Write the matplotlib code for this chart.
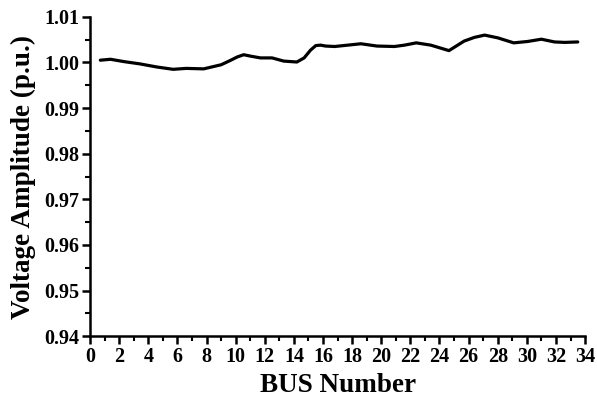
import numpy as np
import matplotlib
matplotlib.use("Agg")
import matplotlib.pyplot as plt
from matplotlib.ticker import MultipleLocator

# voltage profile
bus = [0.7, 1.4, 2.3, 3.4, 4.6, 5.7, 6.6, 7.8, 9.0, 9.6, 10.1, 10.55, 11.0,
       11.7, 12.5, 13.3, 14.2, 14.7, 15.14, 15.5, 15.83, 16.17, 16.8, 17.4,
       18.6, 19.7, 20.9, 21.6, 22.4, 23.4, 24.65, 25.7, 26.4, 27.1, 28.0,
       29.1, 30.05, 31.0, 31.9, 32.6, 33.5]
volt = [1.0005, 1.0007, 1.0002, 0.9997, 0.9990, 0.9985, 0.9987, 0.9986,
        0.9995, 1.0004, 1.0012, 1.0017, 1.0014, 1.0010, 1.0010, 1.0003,
        1.0001, 1.0010, 1.0027, 1.0037, 1.0038, 1.0036, 1.0035, 1.0037,
        1.0041, 1.0036, 1.0035, 1.0038, 1.0043, 1.0038, 1.0026, 1.0047,
        1.0055, 1.0060, 1.0054, 1.0043, 1.0046, 1.0051, 1.0045, 1.0044,
        1.0045]

plt.rcParams['font.family'] = ['Liberation Serif', 'DejaVu Serif']
plt.rcParams['font.weight'] = 'bold'

fig = plt.figure(figsize=(5.97, 4.11), dpi=100)
ax = fig.add_axes([0.151, 0.182, 0.829, 0.777])
ax.plot(bus, volt, color='black', lw=2.3, solid_capstyle='round', solid_joinstyle='round')

ax.set_xlim(0, 34)
ax.set_ylim(0.94, 1.01)
ax.xaxis.set_major_locator(MultipleLocator(2))
ax.xaxis.set_minor_locator(MultipleLocator(1))
ax.yaxis.set_major_locator(MultipleLocator(0.01))
ax.yaxis.set_minor_locator(MultipleLocator(0.005))
ax.yaxis.set_major_formatter(plt.FormatStrFormatter('%.2f'))

for s in ['top', 'right']:
    ax.spines[s].set_visible(False)
for s in ['left', 'bottom']:
    ax.spines[s].set_linewidth(1.8)

ax.tick_params(which='major', direction='out', length=6, width=1.8, labelsize=14.5, pad=2)
ax.tick_params(which='minor', direction='out', length=3.5, width=1.5)
for lab in ax.get_xticklabels() + ax.get_yticklabels():
    lab.set_fontweight('bold')

ax.set_xlabel('BUS Number', fontsize=19.5, fontweight='bold', labelpad=4)
ax.set_ylabel('Voltage Amplitude (p.u.)', fontsize=19.5, fontweight='bold', labelpad=6)

fig.savefig('out.png', dpi=100)
